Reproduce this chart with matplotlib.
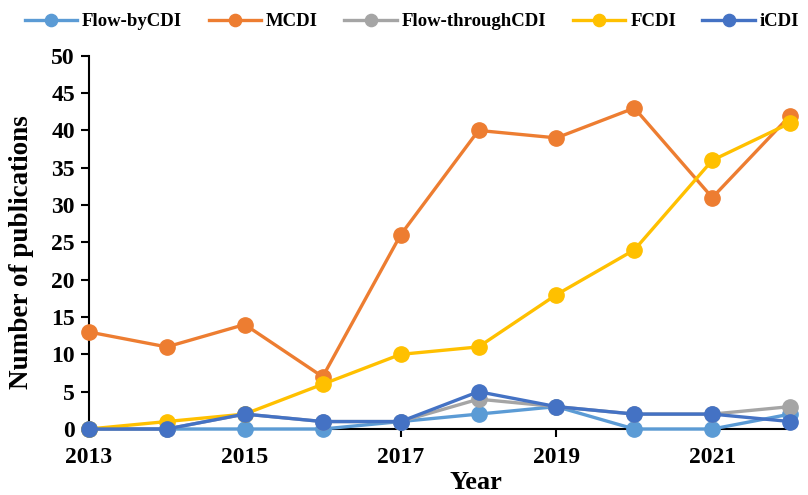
import matplotlib
matplotlib.use("Agg")
import matplotlib.pyplot as plt

years = [2013, 2014, 2015, 2016, 2017, 2018, 2019, 2020, 2021, 2022]
flow_by = [0, 0, 0, 0, 1, 2, 3, 0, 0, 2]
mcdi = [13, 11, 14, 7, 26, 40, 39, 43, 31, 42]
flow_through = [0, 0, 2, 1, 1, 4, 3, 2, 2, 3]
fcdi = [0, 1, 2, 6, 10, 11, 18, 24, 36, 41]
icdi = [0, 0, 2, 1, 1, 5, 3, 2, 2, 1]

series = [
    ("Flow-byCDI", flow_by, "#5B9BD5"),
    ("MCDI", mcdi, "#ED7D31"),
    ("Flow-throughCDI", flow_through, "#A5A5A5"),
    ("FCDI", fcdi, "#FFC000"),
    ("iCDI", icdi, "#4472C4"),
]

plt.rcParams['font.family'] = ['Liberation Serif', 'DejaVu Serif']
plt.rcParams['font.weight'] = 'bold'

fig = plt.figure(figsize=(8.08, 4.95), dpi=100)
ax = fig.add_axes([0.110, 0.1333, 0.868, 0.754])

for name, vals, col in series:
    ax.plot(years, vals, color=col, lw=2.4, marker='o', markersize=11,
            label=name, clip_on=False, zorder=3)

ax.set_xlim(2013, 2022)
ax.set_ylim(0, 50)
ax.set_xticks([2013, 2015, 2017, 2019, 2021])
ax.set_yticks(range(0, 51, 5))
ax.tick_params(axis='both', labelsize=17, width=1.5, length=6, direction='out', pad=4)
ax.tick_params(axis='x', pad=7)
for lab in ax.get_xticklabels() + ax.get_yticklabels():
    lab.set_fontweight('bold')
ax.spines['top'].set_visible(False)
ax.spines['right'].set_visible(False)
ax.spines['left'].set_linewidth(1.5)
ax.spines['bottom'].set_linewidth(1.5)
ax.set_xlabel("Year", fontsize=19, fontweight='bold', va='bottom')
ax.xaxis.set_label_coords(0.552, -0.1743)
ax.set_ylabel("Number of publications", fontsize=19.5, fontweight='bold')
ax.yaxis.set_label_coords(-0.0785, 0.475)

fig.legend(loc='center', bbox_to_anchor=(0.51, 0.956), ncol=5, frameon=False,
           prop={'size': 13.5, 'weight': 'bold'}, handlelength=2.8, columnspacing=1.4,
           handletextpad=0.27, markerscale=0.8, borderpad=0.1)

fig.savefig("out.png", dpi=100)
